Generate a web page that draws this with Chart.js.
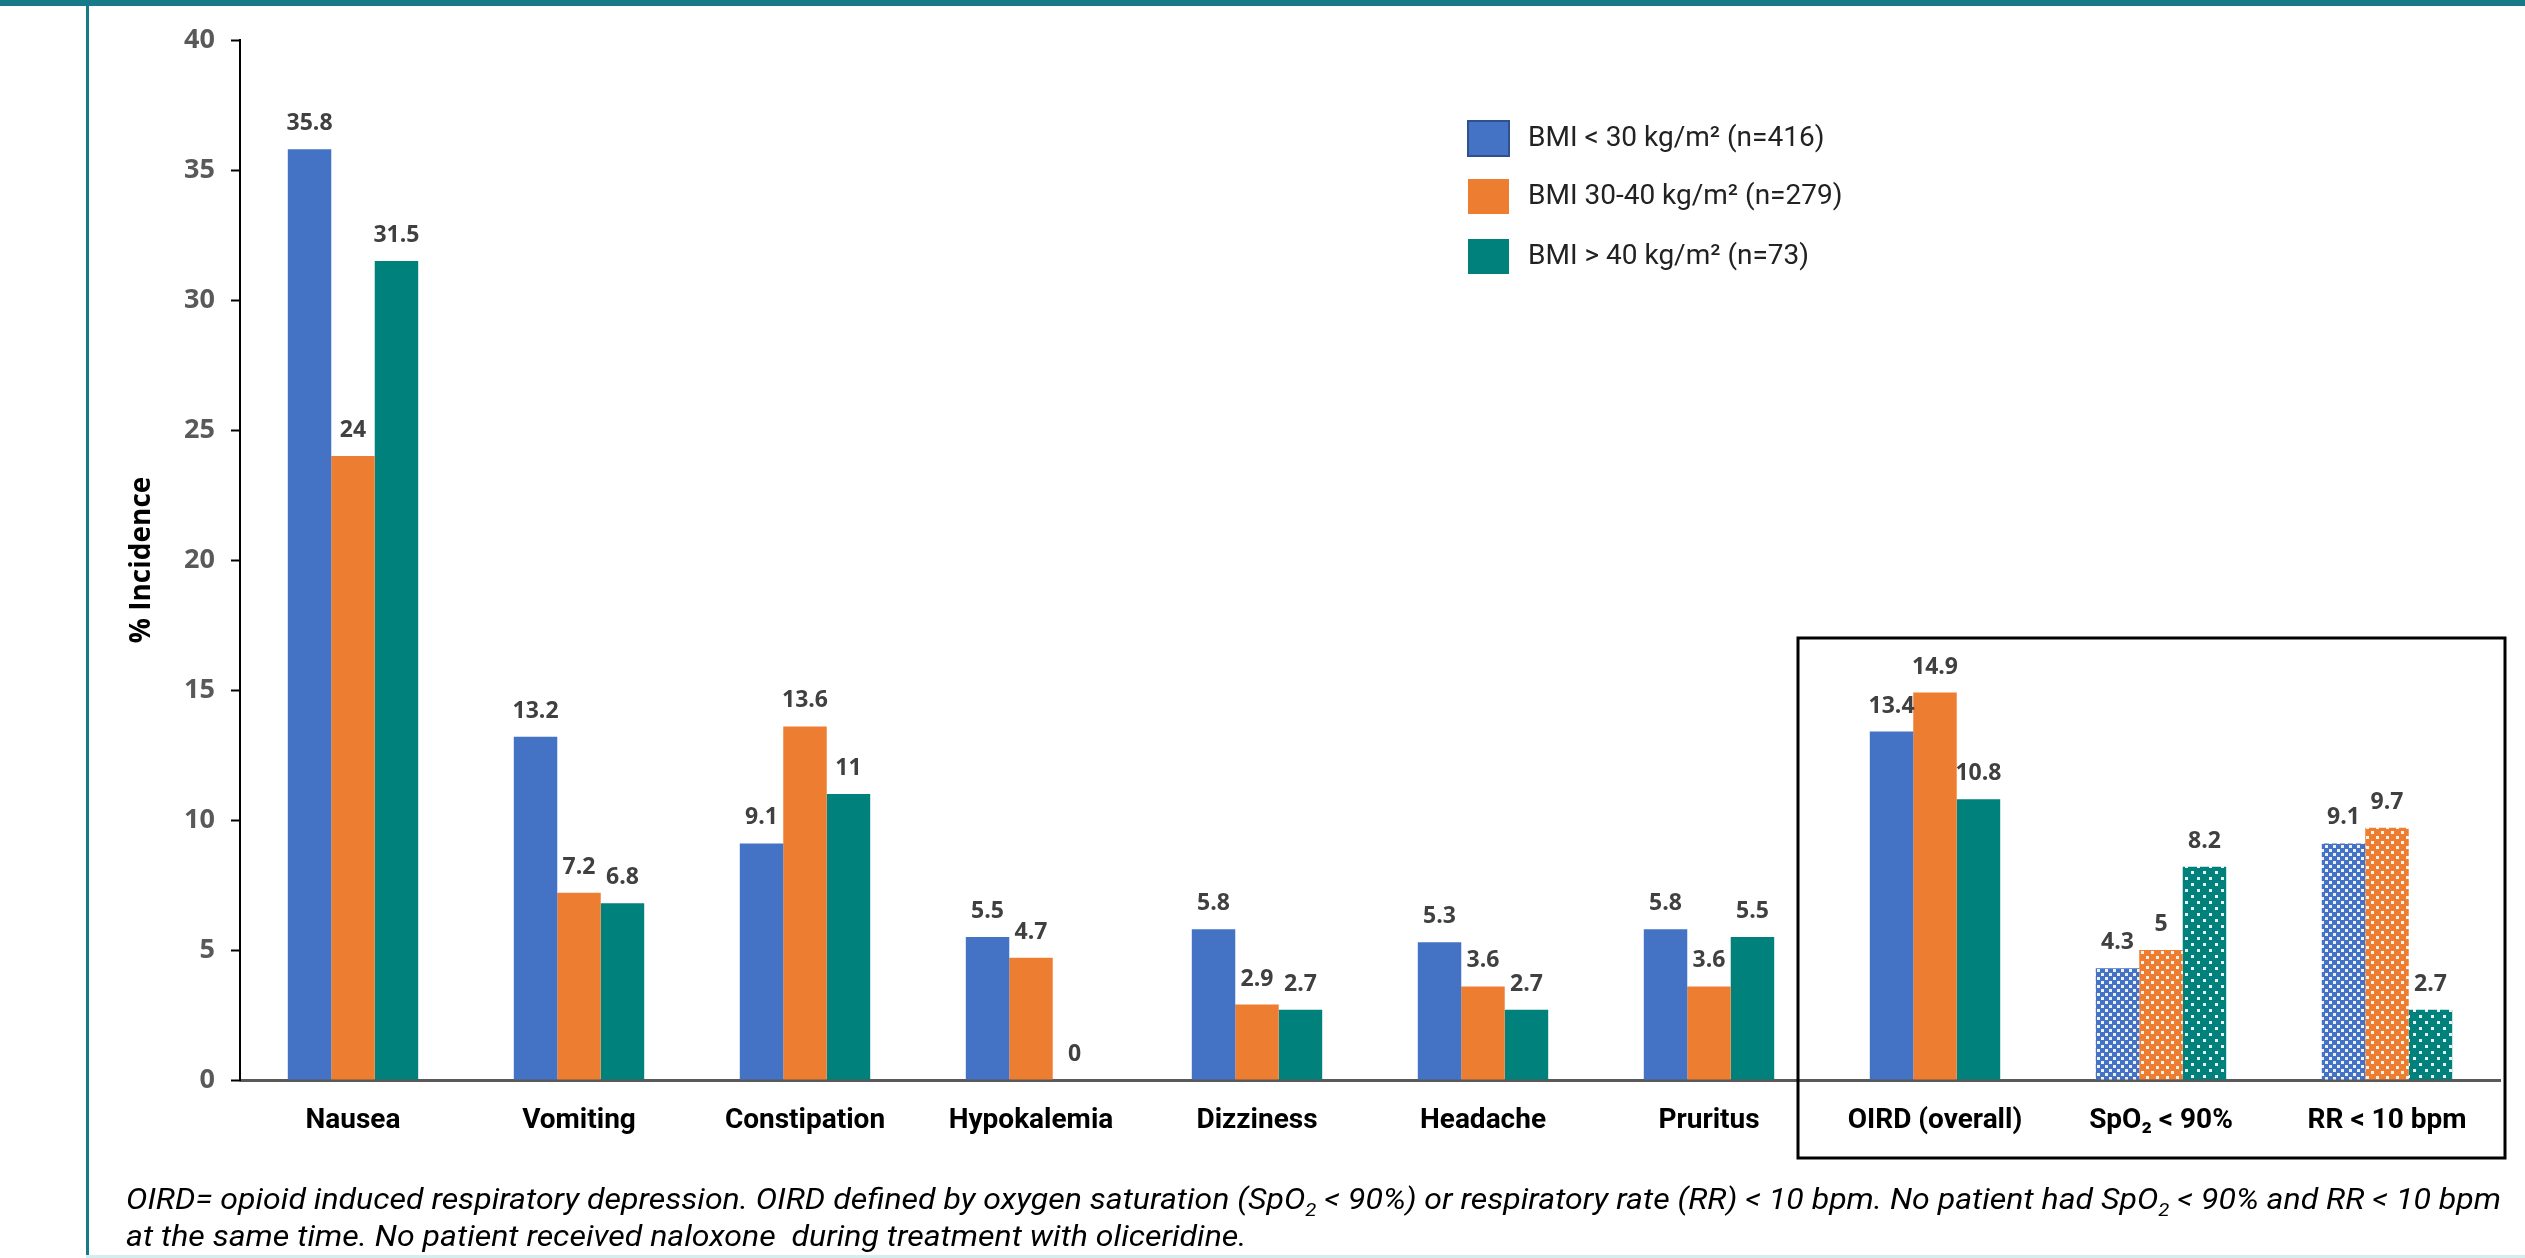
<!DOCTYPE html>
<html>
<head>
<meta charset="utf-8">
<title>Adverse events by BMI</title>
<script src="https://cdn.jsdelivr.net/npm/chart.js@4.4.1/dist/chart.umd.min.js"></script>
<style>
  html, body { margin: 0; padding: 0; background: #fff; overflow: hidden; }
  #wrap { position: relative; width: 2525px; height: 1258px; }
  #chart { position: absolute; left: 0; top: 0; }
  .frame { position: absolute; background: #177a89; }
  #frameTop { left: 0; top: 0; width: 2525px; height: 6px; }
  #frameLeft { left: 86px; top: 0; width: 3px; height: 1258px; }
  #frameBottom { left: 86px; top: 1255px; width: 2439px; height: 3px; background: #d4eef0; }
  #note {
    position: absolute; left: 126px; top: 1180px;
    font-family: Roboto, "Liberation Sans", sans-serif; font-style: italic; font-size: 30px;
    line-height: 37px; color: #000; white-space: nowrap; transform-origin: 0 0;
  }
  #note sub { font-size: 19px; line-height: 0; }
</style>
</head>
<body>
<div id="wrap">
  <canvas id="chart" width="2525" height="1258"></canvas>
  <div class="frame" id="frameTop"></div>
  <div class="frame" id="frameLeft"></div>
  <div class="frame" id="frameBottom"></div>
  <div id="note"><span id="noteLine1">OIRD= opioid induced respiratory depression. OIRD defined by oxygen saturation (SpO<sub>2</sub> &lt; 90%) or respiratory rate (RR) &lt; 10 bpm. No patient had SpO<sub>2</sub> &lt; 90% and RR &lt; 10 bpm</span><br>at the same time. No patient received naloxone&nbsp; during treatment with oliceridine.</div>
</div>
<script>
// data
const categories = ['Nausea', 'Vomiting', 'Constipation', 'Hypokalemia', 'Dizziness', 'Headache', 'Pruritus', 'OIRD (overall)', 'SpO₂ < 90%', 'RR < 10 bpm'];
const bmiUnder30 = [35.8, 13.2, 9.1, 5.5, 5.8, 5.3, 5.8, 13.4, 4.3, 9.1];
const bmi30to40 = [24, 7.2, 13.6, 4.7, 2.9, 3.6, 3.6, 14.9, 5, 9.7];
const bmiOver40 = [31.5, 6.8, 11, 0, 2.7, 2.7, 5.5, 10.8, 8.2, 2.7];
const seriesNames = ['BMI < 30 kg/m² (n=416)', 'BMI 30-40 kg/m² (n=279)', 'BMI > 40 kg/m² (n=73)'];
const seriesColors = ['#4472C4', '#ED7D31', '#00817B'];
const yMin = 0, yMax = 40, yStep = 5;
const firstDotted = 8; // SpO2 and RR bars drawn with a dotted fill

// small tile with white dots, used for the SpO2 / RR bars
function dotPattern(color, gap) {
  const c = document.createElement('canvas');
  c.width = gap; c.height = gap;
  const g = c.getContext('2d');
  g.fillStyle = color;
  g.fillRect(0, 0, gap, gap);
  g.fillStyle = 'rgba(255,255,255,0.9)';
  g.fillRect(1, 1, 3, 3);
  g.fillRect(Math.round(gap / 2) + 1, Math.round(gap / 2) + 1, 3, 3);
  return g.createPattern(c, 'repeat');
}

function fills(color, gap) {
  const pat = dotPattern(color, gap);
  return categories.map((c, i) => i >= firstDotted ? pat : color);
}

const valueLabels = {
  id: 'valueLabels',
  afterDatasetsDraw(chart) {
    const ctx = chart.ctx;
    ctx.save();
    ctx.font = 'bold 23px "Open Sans"';
    ctx.fillStyle = '#404040';
    ctx.textAlign = 'center';
    ctx.textBaseline = 'alphabetic';
    chart.data.datasets.forEach((ds, di) => {
      chart.getDatasetMeta(di).data.forEach((bar, i) => {
        ctx.fillText(String(ds.data[i]), bar.x, bar.y - 19);
      });
    });
    ctx.restore();
  }
};

// legend box inside the plot, top right
const boxLegend = {
  id: 'boxLegend',
  afterDraw(chart) {
    const ctx = chart.ctx;
    const x0 = chart.chartArea.left + 1228;
    const rows = [138, 196, 256];
    ctx.save();
    ctx.font = '28px Roboto';
    ctx.textBaseline = 'middle';
    seriesNames.forEach((name, i) => {
      ctx.fillStyle = seriesColors[i];
      ctx.fillRect(x0, rows[i] - 17, 41, 35);
      if (i === 0) {
        ctx.strokeStyle = '#2F528F';
        ctx.lineWidth = 2;
        ctx.strokeRect(x0, rows[i] - 17, 41, 35);
      }
      ctx.fillStyle = '#222';
      ctx.fillText(name, x0 + 60, rows[i] + 1);
    });
    ctx.restore();
  }
};

// black frame around the respiratory depression group
const oirdBox = {
  id: 'oirdBox',
  afterDraw(chart) {
    const ctx = chart.ctx;
    const x = chart.scales.x, y = chart.scales.y;
    const left = x.getPixelForValue(6.5) - 24;
    const right = chart.chartArea.right + 5;
    const top = y.getPixelForValue(17);
    const bottom = chart.chartArea.bottom + 78;
    ctx.save();
    ctx.strokeStyle = '#000';
    ctx.lineWidth = 3;
    ctx.strokeRect(left, top, right - left, bottom - top);
    ctx.restore();
  }
};

const ctx = document.getElementById('chart').getContext('2d');
new Chart(ctx, {
  type: 'bar',
  data: {
    labels: categories,
    datasets: [
      { label: seriesNames[0], data: bmiUnder30, backgroundColor: fills(seriesColors[0], 8) },
      { label: seriesNames[1], data: bmi30to40, backgroundColor: fills(seriesColors[1], 10) },
      { label: seriesNames[2], data: bmiOver40, backgroundColor: fills(seriesColors[2], 12) }
    ]
  },
  options: {
    responsive: false,
    animation: false,
    devicePixelRatio: 1,
    layout: { autoPadding: false, padding: { left: 100, right: 25, top: 40, bottom: 98 } },
    datasets: { bar: { categoryPercentage: 0.577, barPercentage: 1.0 } },
    plugins: {
      legend: { display: false },
      tooltip: { enabled: false }
    },
    scales: {
      x: {
        grid: { display: false, drawTicks: false },
        border: { color: '#595959', width: 3 },
        ticks: {
          color: '#000',
          font: { family: 'Roboto', size: 28, weight: 'bold' },
          padding: 24, autoSkip: false, maxRotation: 0
        },
        afterFit(scale) { scale.height = 80; }
      },
      y: {
        min: yMin, max: yMax,
        ticks: {
          stepSize: yStep,
          color: '#595959',
          font: { family: '"Open Sans"', size: 27, weight: 'bold' },
          padding: 16
        },
        grid: { drawOnChartArea: false, drawTicks: true, tickLength: 9, tickColor: '#000', tickWidth: 2 },
        border: { color: '#000', width: 2 },
        title: {
          display: true, text: '% Incidence', color: '#000',
          font: { family: '"Open Sans"', size: 28, weight: 'bold' },
          padding: { top: 25, bottom: 0 }
        },
        afterFit(scale) { scale.width = 140; }
      }
    }
  },
  plugins: [valueLabels, boxLegend, oirdBox]
});

// squeeze the footnote to the width it has in the figure
const note = document.getElementById('note');
const w = document.getElementById('noteLine1').getBoundingClientRect().width;
note.style.transform = 'scaleX(' + (2375 / w).toFixed(4) + ')';
</script>
</body>
</html>
